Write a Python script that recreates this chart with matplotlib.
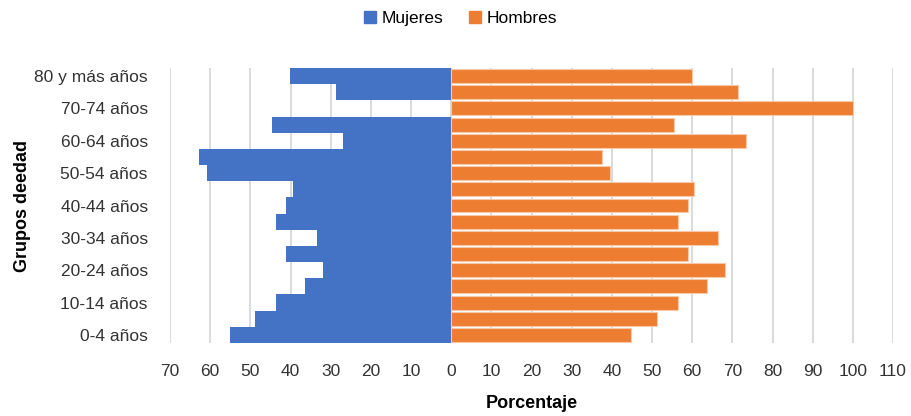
import numpy as np
import matplotlib.pyplot as plt
from matplotlib.patches import Patch

plt.rcParams['font.family'] = ['Liberation Sans Narrow', 'Liberation Sans', 'DejaVu Sans']

# Grupos de edad, de menor a mayor
grupos = ['0-4 años', '5-9 años', '10-14 años', '15-19 años', '20-24 años',
          '25-29 años', '30-34 años', '35-39 años', '40-44 años', '45-49 años',
          '50-54 años', '55-59 años', '60-64 años', '65-69 años', '70-74 años',
          '75-79 años', '80 y más años']

mujeres = [55.1, 48.8, 43.6, 36.3, 31.8, 41.1, 33.5, 43.6, 41.1, 39.5,
           60.7, 62.8, 26.9, 44.6, 0.0, 28.7, 40.1]
hombres = [44.8, 51.2, 56.4, 63.6, 68.2, 58.9, 66.5, 56.4, 58.9, 60.5,
           39.5, 37.5, 73.3, 55.4, 100.0, 71.3, 60.0]

azul = '#4472C4'
naranja = '#ED7D31'

y = np.arange(len(grupos))

fig = plt.figure(figsize=(9.12, 4.16), dpi=100)
ax = fig.add_axes([0.1864, 0.1755, 0.7928, 0.661])

ax.barh(y, -np.array(mujeres), height=1.0, color=azul, zorder=3)
ax.barh(y, hombres, height=0.86, color=naranja, edgecolor='#f8c9a8',
        linewidth=0.8, zorder=3)

ax.set_xlim(-70, 110)
ax.set_ylim(-0.5, len(grupos) - 0.5)

xt = np.arange(-70, 111, 10)
ax.set_xticks(xt)
ax.set_xticklabels([str(abs(v)) for v in xt], fontsize=12.5, color='#333333')
ax.set_yticks(y[::2])
ax.set_yticklabels(grupos[::2], fontsize=12.5, color='#333333')
ax.tick_params(axis='x', length=0, pad=15)
ax.tick_params(axis='y', length=0, pad=16)

ax.grid(axis='x', color='#d4d4d4', linewidth=1.2, zorder=0)
for s in ax.spines.values():
    s.set_visible(False)

ax.set_xlabel('Porcentaje', fontsize=13, fontweight='bold', labelpad=12)
ax.set_ylabel('Grupos deedad', fontsize=13, fontweight='bold', labelpad=2)

handles = [Patch(color=azul, label='Mujeres'), Patch(color=naranja, label='Hombres')]
fig.legend(handles=handles, loc='center', bbox_to_anchor=(0.505, 0.955), ncol=2,
           frameon=False, fontsize=12.5, handlelength=0.7, handleheight=0.7,
           handletextpad=0.3, columnspacing=1.5)

fig.savefig('out.png', dpi=100)
